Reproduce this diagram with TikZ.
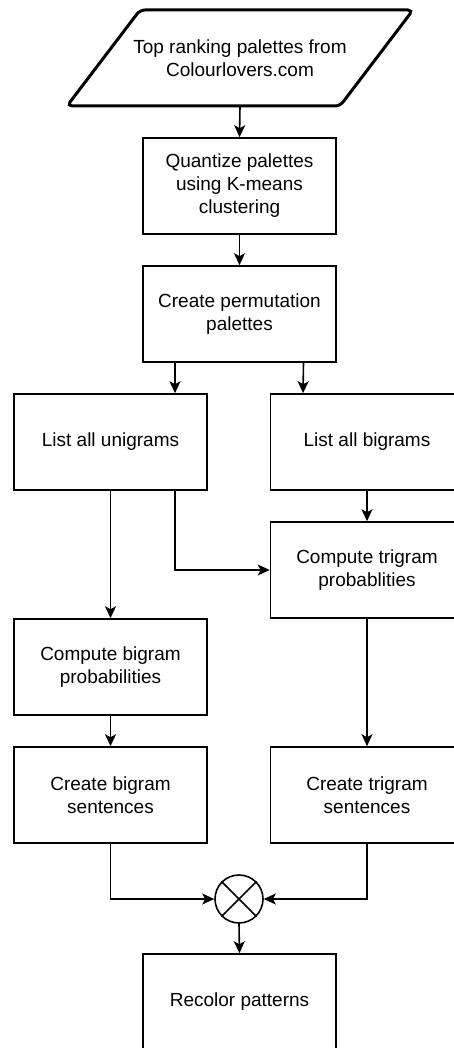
\documentclass[tikz,border=0pt]{standalone}
\usepackage{fontspec}
\setmainfont{Liberation Sans}
\usetikzlibrary{arrows.meta}
\begin{document}
\begin{tikzpicture}[x=1pt,y=1pt,
  stepbox/.style={draw, line width=1.6pt, minimum width=193pt, minimum height=96pt,
    align=center, inner sep=0pt, font=\fontsize{19}{23}\selectfont},
  arr/.style={-{Stealth[length=12pt,width=11pt,inset=3pt]}, line width=1.6pt},
  link/.style={line width=1.6pt}]
\clip (0,0) rectangle (454,-1048);
\fill[white] (0,0) rectangle (454,-1048);
% input parallelogram
\draw[line width=3pt, rounded corners=5pt] (140,-10) -- (413,-10) -- (340,-106) -- (67,-106) -- cycle;
\node[minimum width=200pt, minimum height=96pt, inner sep=0pt, align=center,
  font=\fontsize{19}{23}\selectfont] (src) at (240,-58) {Top ranking palettes from\\Colourlovers.com};
\node[stepbox] (q) at (239.5,-186) {Quantize palettes\\using K-means\\clustering};
\node[stepbox] (perm) at (239.5,-314) {Create permutation\\palettes};
\node[stepbox] (uni) at (110.5,-442) {List all unigrams};
\node[stepbox] (bi) at (367,-442) {List all bigrams};
\node[stepbox] (tri) at (367,-570) {Compute trigram\\probablities};
\node[stepbox] (bprob) at (110.5,-667) {Compute bigram\\probabilities};
\node[stepbox] (bsent) at (110.5,-795) {Create bigram\\sentences};
\node[stepbox] (tsent) at (367,-795) {Create trigram\\sentences};
\node[draw, circle, line width=1.6pt, minimum size=48pt, inner sep=0pt] (x) at (239,-899) {};
\draw[link] (x.north west) -- (x.south east) (x.north east) -- (x.south west);
\node[stepbox] (rec) at (239.5,-1002) {Recolor patterns};
% connectors
\draw[arr] (src.south) -- (q.north);
\draw[arr] (q.south) -- (perm.north);
\draw[arr] ([xshift=-64.5pt]perm.south) -- ([xshift=64.5pt]uni.north);
\draw[arr] ([xshift=64pt]perm.south) -- ([xshift=-64pt]bi.north);
\draw[arr] (bi.south) -- (tri.north);
\draw[arr] ([xshift=64.5pt]uni.south) |- (tri.west);
\draw[arr] (uni.south) -- (bprob.north);
\draw[arr] (bprob.south) -- (bsent.north);
\draw[arr] (tri.south) -- (tsent.north);
\draw[arr] (bsent.south) |- (x.west);
\draw[arr] (tsent.south) |- (x.east);
\draw[arr] (x.south) -- (rec.north);
\end{tikzpicture}
\end{document}
